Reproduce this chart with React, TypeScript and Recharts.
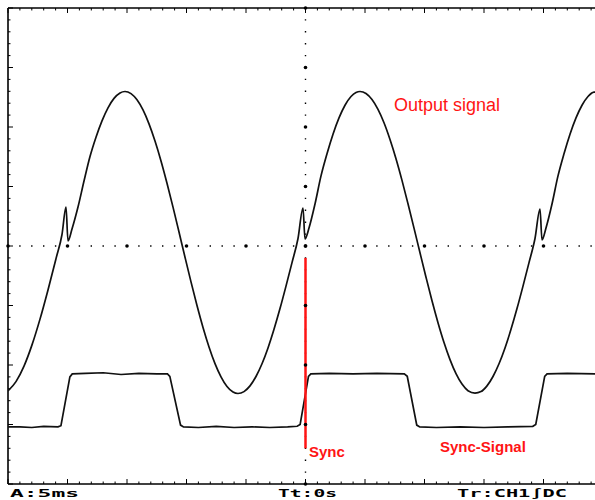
import { Line, LineChart, ReferenceDot, ReferenceLine, XAxis, YAxis } from 'recharts';

// time in ms (5 ms per division), level in divisions
const outputTime = [
  0, 0.672, 1.345, 2.017, 2.689, 3.361, 4.034, 4.538, 4.874, 5.042, 5.378, 5.882, 6.387, 6.891, 7.395, 7.899,
  8.403, 8.908, 9.412, 9.832, 10.336, 10.84, 11.345, 11.849, 12.353, 12.857, 13.361, 13.866, 14.37, 14.874,
  15.378, 15.882, 16.387, 16.891, 17.395, 17.899, 18.403, 18.908, 19.328, 19.832, 20.336, 20.84, 21.345,
  21.849, 22.353, 22.857, 23.361, 23.866, 24.37, 24.79, 24.958, 25.294, 25.798, 26.303, 26.807, 27.311,
  27.815, 28.319, 28.824, 29.244, 29.58, 30.084, 30.588, 31.092, 31.597, 32.101, 32.605, 33.109, 33.613,
  34.118, 34.622, 35.126, 35.63, 36.134, 36.639, 37.143, 37.647, 38.151, 38.655, 39.244, 39.748, 40.252,
  40.756, 41.261, 41.765, 42.269, 42.773, 43.277, 43.782, 44.286, 44.706, 44.874, 45.21, 45.714, 46.218,
  46.723, 47.227, 47.731, 48.235, 48.739, 49.244, 49.916,
];
const outputLevel = [
  -2.435, -2.279, -2.019, -1.662, -1.229, -0.738, -0.212, 0.193, 0.655, 0.084, 0.286, 0.655, 1.092, 1.504,
  1.829, 2.104, 2.323, 2.481, 2.573, 2.597, 2.561, 2.457, 2.286, 2.052, 1.763, 1.429, 1.055, 0.654, 0.235,
  -0.188, -0.603, -1.0, -1.368, -1.696, -1.976, -2.199, -2.361, -2.454, -2.479, -2.447, -2.351, -2.193,
  -1.979, -1.713, -1.4, -1.052, -0.674, -0.279, 0.126, 0.639, 0.118, 0.303, 0.706, 1.178, 1.551, 1.879,
  2.153, 2.366, 2.513, 2.58, 2.597, 2.563, 2.462, 2.296, 2.071, 1.79, 1.467, 1.103, 0.709, 0.301, -0.114,
  -0.524, -0.921, -1.289, -1.622, -1.909, -2.145, -2.321, -2.432, -2.471, -2.447, -2.351, -2.193, -1.979,
  -1.713, -1.4, -1.052, -0.674, -0.279, 0.126, 0.622, 0.101, 0.303, 0.706, 1.178, 1.551, 1.879, 2.153,
  2.366, 2.513, 2.585, 2.595,
];

const syncTime = [
  0, 1, 2, 3, 4.2, 4.45, 5.2, 5.4, 6.5, 8, 9.5, 11, 12.5, 13.4, 13.6, 14.5, 14.75, 16, 17.5, 19, 20.5, 22,
  23.5, 24.3, 24.55, 25.25, 25.45, 27, 29, 31, 33.3, 33.55, 34.35, 34.6, 36, 38, 40, 42, 44.1, 44.35, 45.1,
  45.3, 47, 49.5,
];
const syncLevel = [
  -3.04, -3.04, -3.05, -3.03, -3.04, -3.02, -2.2, -2.15, -2.14, -2.13, -2.16, -2.14, -2.15, -2.15, -2.19,
  -3.01, -3.04, -3.05, -3.03, -3.05, -3.04, -3.05, -3.04, -3.03, -3.0, -2.19, -2.15, -2.14, -2.15, -2.14,
  -2.15, -2.19, -3.01, -3.04, -3.05, -3.04, -3.05, -3.04, -3.03, -3.0, -2.19, -2.15, -2.14, -2.15,
];

const majorX = [0, 5, 10, 15, 20, 25, 30, 35, 40, 45, 50];
const majorY = [-4, -3, -2, -1, 0, 1, 2, 3, 4];
const minorX = Array.from({ length: 51 }, (_, i) => i);
const minorY = Array.from({ length: 41 }, (_, i) => -4 + i * 0.2);

const syncMarkTime = 25;
const syncMarkRange = [-0.2, -3.4];

const outputData = outputTime.map((t, i) => ({ t, v: outputLevel[i] }));
const syncData = syncTime.map((t, i) => ({ t, v: syncLevel[i] }));

const isMajorX = (v: number) => Math.abs(v % 5) < 1e-6;
const isMajorY = (v: number) => Math.abs(v - Math.round(v)) < 1e-6;

// tick lengths in data units (about 5px major, 2.5px minor)
const tickLenX = (v: number) => (isMajorX(v) ? 0.084 : 0.042);
const tickLenY = (v: number) => (isMajorY(v) ? 0.42 : 0.21);

const red = '#ff1414';

export default function App() {
  return (
    <div
      style={{ position: 'absolute', left: 0, top: 0, width: 595, height: 500, overflow: 'hidden', background: '#fff' }}
    >
      <LineChart width={611} height={500} margin={{ top: 8, right: 8, bottom: 16, left: 8 }}>
        <XAxis type="number" dataKey="t" domain={[0, 50]} hide allowDataOverflow />
        <YAxis type="number" domain={[-4, 4]} hide allowDataOverflow />
        <ReferenceLine y={0} stroke="#000" strokeWidth={1.4} strokeDasharray="1.4 10.5" strokeDashoffset={0.7} />
        <ReferenceLine x={25} stroke="#000" strokeWidth={1.4} strokeDasharray="1.4 10.5" strokeDashoffset={0.7} />
        {majorX.map((t) => (
          <ReferenceDot key={'mx' + t} x={t} y={0} r={1.8} fill="#000" stroke="none" />
        ))}
        {majorY.map((v) => (
          <ReferenceDot key={'my' + v} x={25} y={v} r={1.8} fill="#000" stroke="none" />
        ))}
        {/* frame */}
        <ReferenceLine x={0} stroke="#000" strokeWidth={1.6} />
        <ReferenceLine y={4} stroke="#000" strokeWidth={1.6} />
        <ReferenceLine y={-4} stroke="#000" strokeWidth={1.6} />
        {minorX.map((t) => (
          <ReferenceLine
            key={'tt' + t}
            segment={[
              { x: t, y: 4 },
              { x: t, y: 4 - tickLenX(t) },
            ]}
            stroke="#000"
            strokeWidth={1}
          />
        ))}
        {minorX.map((t) => (
          <ReferenceLine
            key={'bt' + t}
            segment={[
              { x: t, y: -4 },
              { x: t, y: -4 + tickLenX(t) },
            ]}
            stroke="#000"
            strokeWidth={1}
          />
        ))}
        {minorY.map((v, i) => (
          <ReferenceLine
            key={'lt' + i}
            segment={[
              { x: 0, y: v },
              { x: tickLenY(v), y: v },
            ]}
            stroke="#000"
            strokeWidth={1}
          />
        ))}
        <Line
          data={outputData}
          dataKey="v"
          type="monotone"
          stroke="#111"
          strokeWidth={1.7}
          dot={false}
          isAnimationActive={false}
        />
        <Line
          data={syncData}
          dataKey="v"
          type="linear"
          stroke="#111"
          strokeWidth={1.7}
          dot={false}
          isAnimationActive={false}
        />
        <ReferenceLine
          segment={[
            { x: syncMarkTime, y: syncMarkRange[0] },
            { x: syncMarkTime, y: syncMarkRange[1] },
          ]}
          stroke={red}
          strokeWidth={2.5}
        />
      </LineChart>
      <svg
        width={595}
        height={500}
        style={{ position: 'absolute', left: 0, top: 0, pointerEvents: 'none' }}
      >
        <text x={394} y={111} fontFamily="'Liberation Sans', Arial, sans-serif" fontSize={18} fill={red}>
          Output signal
        </text>
        <text x={309} y={457} fontFamily="'Liberation Sans', Arial, sans-serif" fontSize={15} fontWeight="bold" fill={red}>
          Sync
        </text>
        <text x={440} y={452} fontFamily="'Liberation Sans', Arial, sans-serif" fontSize={15} fontWeight="bold" fill={red}>
          Sync-Signal
        </text>
        <g fontFamily="'DejaVu Sans Mono', monospace" fontSize={10} fontWeight="bold" fill="#000">
          <text x={10} y={497} textLength={69} lengthAdjust="spacingAndGlyphs">
            A:5ms
          </text>
          <text x={278} y={497} textLength={59} lengthAdjust="spacingAndGlyphs">
            Tt:0s
          </text>
          <text x={457} y={497} textLength={110} lengthAdjust="spacingAndGlyphs">
            Tr:CH1∫DC
          </text>
        </g>
      </svg>
    </div>
  );
}
